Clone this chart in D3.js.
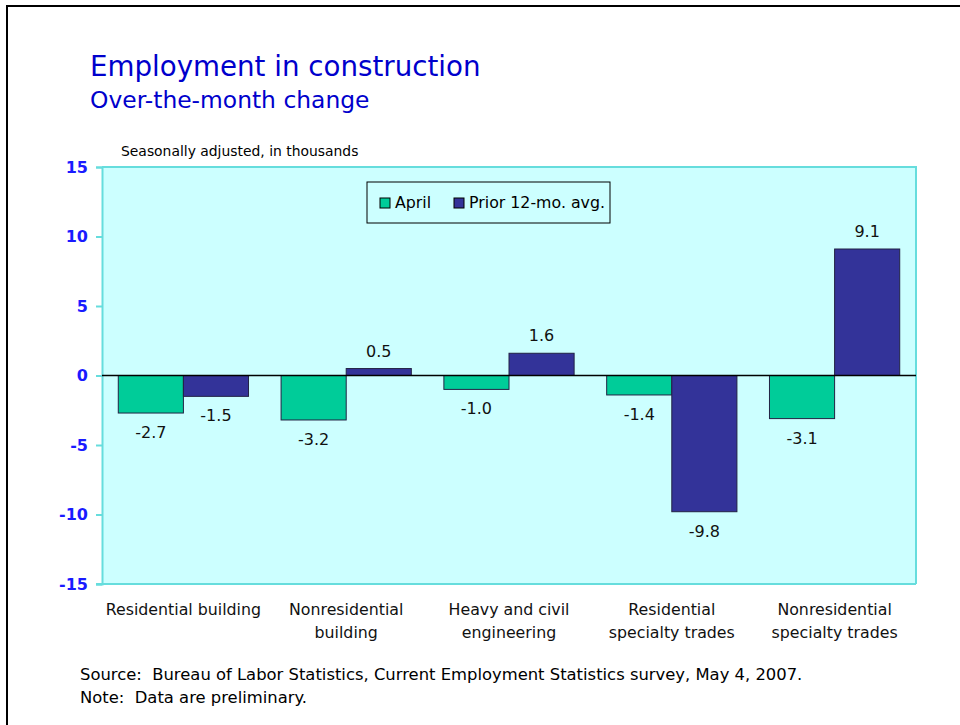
<!DOCTYPE html>
<html>
<head>
<meta charset="utf-8">
<script src="https://cdn.jsdelivr.net/npm/d3@7"></script>
<style>
  body { margin: 0; background: #fff; }
  svg text { font-family: "DejaVu Sans", sans-serif; white-space: pre; }
</style>
</head>
<body>
<div class="chart"></div>
<script>
// chart data
var categories = [
  ["Residential building"],
  ["Nonresidential", "building"],
  ["Heavy and civil", "engineering"],
  ["Residential", "specialty trades"],
  ["Nonresidential", "specialty trades"]
];
var seriesNames = ["April", "Prior 12-mo. avg."];
var aprilValues = [-2.7, -3.2, -1.0, -1.4, -3.1];
var priorValues = [-1.5, 0.5, 1.6, -9.8, 9.1];
var yTicks = [15, 10, 5, 0, -5, -10, -15];

var colors = ["#00cc99", "#333399"];

// plain hyphen for negatives, like the original
var locale = d3.formatLocale({ decimal: ".", thousands: ",", grouping: [3], currency: ["", ""], minus: "-" });
var fmtVal = locale.format(".1f");
var fmtTick = locale.format("d");

var svgWidth = 960;
var svgHeight = 725;

var margin = { top: 167, right: 44, bottom: 141, left: 102 };
var width = svgWidth - margin.left - margin.right;
var height = svgHeight - margin.top - margin.bottom;

var svg = d3.select(".chart")
  .append("svg")
  .attr("width", svgWidth)
  .attr("height", svgHeight);

// outer frame (top and left edges only show)
svg.append("path")
  .attr("d", "M7,725 V6 H960")
  .attr("fill", "none")
  .attr("stroke", "#000")
  .attr("stroke-width", 2);

// titles
svg.append("text")
  .attr("x", 90).attr("y", 76)
  .attr("font-size", 27.7)
  .attr("fill", "#0000cc")
  .text("Employment in construction");

svg.append("text")
  .attr("x", 90).attr("y", 108)
  .attr("font-size", 23.4)
  .attr("fill", "#0000cc")
  .text("Over-the-month change");

svg.append("text")
  .attr("x", 121).attr("y", 156)
  .attr("font-size", 13.9)
  .attr("fill", "#000")
  .text("Seasonally adjusted, in thousands");

var chartGroup = svg.append("g")
  .attr("transform", `translate(${margin.left}, ${margin.top})`);

// scales
var x0 = d3.scaleBand()
  .domain(d3.range(categories.length))
  .range([0, width])
  .paddingInner(0.2)
  .paddingOuter(0.1);

var yScale = d3.scaleLinear()
  .domain([-15, 15])
  .range([height, 0]);

// plot background
chartGroup.append("rect")
  .attr("width", width)
  .attr("height", height)
  .attr("fill", "#ccffff");

// top and right border
chartGroup.append("path")
  .attr("d", `M0,0 H${width} V${height}`)
  .attr("fill", "none")
  .attr("stroke", "#66dddd")
  .attr("stroke-width", 2);

// y axis
var yAxis = d3.axisLeft(yScale)
  .tickValues(yTicks)
  .tickFormat(fmtTick)
  .tickSize(6)
  .tickPadding(8);

var yG = chartGroup.append("g")
  .call(yAxis);
yG.select(".domain").attr("stroke", "#66dddd").attr("stroke-width", 2);
yG.selectAll(".tick line").attr("stroke", "#66dddd").attr("stroke-width", 2);
yG.selectAll(".tick text")
  .attr("fill", "#1a1aff")
  .style("font-size", "16px")
  .style("font-weight", "bold");

// bottom line
chartGroup.append("line")
  .attr("x1", -6).attr("x2", width)
  .attr("y1", height).attr("y2", height)
  .attr("stroke", "#66dddd")
  .attr("stroke-width", 2);

// bars
var barData = [];
categories.forEach(function(c, i) {
  barData.push({ i: i, s: 0, v: aprilValues[i] });
  barData.push({ i: i, s: 1, v: priorValues[i] });
});

var bw = x0.bandwidth() / 2;

chartGroup.selectAll(".bar")
  .data(barData)
  .enter()
  .append("rect")
  .attr("class", "bar")
  .attr("x", d => x0(d.i) + d.s * bw)
  .attr("y", d => yScale(Math.max(0, d.v)))
  .attr("width", bw)
  .attr("height", d => Math.abs(yScale(d.v) - yScale(0)))
  .attr("fill", d => colors[d.s])
  .attr("stroke", "#222244")
  .attr("stroke-width", 1);

// zero line
chartGroup.append("line")
  .attr("x1", 0).attr("x2", width)
  .attr("y1", yScale(0)).attr("y2", yScale(0))
  .attr("stroke", "#000")
  .attr("stroke-width", 1.5);

// value labels
chartGroup.selectAll(".val")
  .data(barData)
  .enter()
  .append("text")
  .attr("class", "val")
  .attr("x", d => x0(d.i) + d.s * bw + bw / 2)
  .attr("y", d => d.v >= 0 ? yScale(d.v) - 12 : yScale(d.v) + 25)
  .attr("text-anchor", "middle")
  .attr("font-size", 16)
  .attr("fill", "#111")
  .text(d => fmtVal(d.v));

// category labels
var catG = chartGroup.selectAll(".cat")
  .data(categories)
  .enter()
  .append("text")
  .attr("class", "cat")
  .attr("text-anchor", "middle")
  .attr("font-size", 15.8)
  .attr("fill", "#111")
  .attr("x", (d, i) => x0(i) + x0.bandwidth() / 2);

catG.selectAll("tspan")
  .data(d => d)
  .enter()
  .append("tspan")
  .attr("x", function() { return this.parentNode.getAttribute("x"); })
  .attr("y", (d, j) => height + 31 + j * 23)
  .text(d => d);

// legend
var legend = svg.append("g")
  .attr("transform", "translate(367, 182)");

legend.append("rect")
  .attr("width", 243)
  .attr("height", 41)
  .attr("fill", "#ccffff")
  .attr("stroke", "#000")
  .attr("stroke-width", 1);

var legendX = [13, 87];
seriesNames.forEach(function(name, i) {
  legend.append("rect")
    .attr("x", legendX[i]).attr("y", 16)
    .attr("width", 10).attr("height", 10)
    .attr("fill", colors[i])
    .attr("stroke", "#000");
  legend.append("text")
    .attr("x", legendX[i] + 15).attr("y", 26)
    .attr("font-size", 15.8)
    .attr("fill", "#000")
    .text(name);
});

// footnotes
svg.append("text")
  .attr("x", 80).attr("y", 680)
  .attr("font-size", 16.4)
  .attr("fill", "#000")
  .text("Source:  Bureau of Labor Statistics, Current Employment Statistics survey, May 4, 2007.");

svg.append("text")
  .attr("x", 80).attr("y", 703)
  .attr("font-size", 16.4)
  .attr("fill", "#000")
  .text("Note:  Data are preliminary.");
</script>
</body>
</html>
